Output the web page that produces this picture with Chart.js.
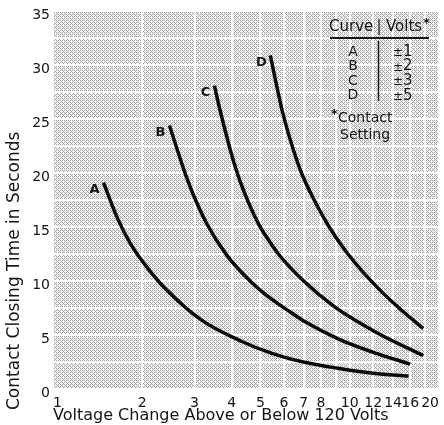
<!DOCTYPE html>
<html>
<head>
<meta charset="utf-8">
<script src="https://cdn.jsdelivr.net/npm/chart.js@4/dist/chart.umd.min.js"></script>
<style>
  html, body { margin: 0; padding: 0; background: #fff; }
  canvas { display: block; }
</style>
</head>
<body>
<canvas id="closingChart" width="444" height="425"></canvas>
<script>
// Curves: [volts change, seconds]
const curveA = [[1.48, 19.1], [1.65, 15.8], [1.83, 13.4], [2.14, 10.8], [2.37, 9.4], [3.16, 6.4],
                [4.33, 4.4], [5.47, 3.3], [7.1, 2.45], [9.22, 1.9], [12.0, 1.45], [15.8, 1.2]];
const curveB = [[2.47, 24.4], [2.62, 22.2], [2.77, 20.2], [2.96, 18.1], [3.3, 15.3], [3.85, 12.4],
                [4.7, 9.8], [5.47, 8.3], [6.33, 7.1], [7.1, 6.2], [9.22, 4.6], [12.0, 3.4], [16.0, 2.3]];
const curveC = [[3.5, 28.1], [3.65, 25.9], [3.9, 22.8], [4.1, 20.7], [4.4, 18.3], [4.95, 15.2],
                [5.45, 13.4], [5.75, 12.5], [7.0, 10.0], [8.9, 7.6], [12.0, 5.4], [15.5, 3.85], [17.7, 3.1]];
const curveD = [[5.4, 30.9], [5.92, 25.8], [6.4, 22.5], [6.88, 20.0], [7.59, 17.5], [8.53, 15.0],
                [9.86, 12.5], [12.6, 9.2], [15.1, 7.2], [17.7, 5.6]];

// Legend table
const curveNames = ['A', 'B', 'C', 'D'];
const contactVolts = ['±1', '±2', '±3', '±5'];

// Axes
const xGridValues = [1, 2, 3, 4, 5, 6, 7, 8, 9, 10, 12, 14, 16, 18, 20];
const xTickLabels = [1, 2, 3, 4, 5, 6, 7, 8, 10, 12, 14, 16, 20];
const yStep = 2.5;
const yLabelStep = 5;

const FONT = '"DejaVu Sans", sans-serif';
const INK = '#151515';

// halftone-ish screen behind the grid
function makeScreen() {
    const c = document.createElement('canvas');
    c.width = 4;
    c.height = 4;
    const g = c.getContext('2d');
    const bayer = [0, 8, 2, 10, 12, 4, 14, 6, 3, 11, 1, 9, 15, 7, 13, 5];
    bayer.forEach((b, i) => {
        g.fillStyle = b < 6 ? '#a8a8a8' : '#f4f4f4';
        g.fillRect(i % 4, Math.floor(i / 4), 1, 1);
    });
    return c;
}

const screenPlugin = {
    id: 'screen',
    beforeDraw(chart) {
        const {ctx, chartArea: a} = chart;
        ctx.save();
        ctx.fillStyle = ctx.createPattern(makeScreen(), 'repeat');
        ctx.fillRect(a.left, a.top, a.right - a.left, a.bottom - a.top);
        ctx.restore();
    }
};

// curve letters, legend table and the vertical axis title
const notesPlugin = {
    id: 'notes',
    afterDatasetsDraw(chart) {
        const ctx = chart.ctx;
        ctx.save();
        ctx.fillStyle = INK;
        ctx.strokeStyle = INK;

        ctx.font = 'bold 13px ' + FONT;
        ctx.textAlign = 'center';
        ctx.textBaseline = 'middle';
        chart.data.datasets.forEach((ds, i) => {
            const p = chart.getDatasetMeta(i).data[0];
            ctx.fillText(ds.label, p.x - 9, p.y + 7);
        });

        // table header
        ctx.font = '15px ' + FONT;
        ctx.textAlign = 'left';
        ctx.fillText('Curve', 329, 27);
        ctx.textAlign = 'center';
        ctx.fillText('|', 379, 27);
        ctx.textAlign = 'left';
        ctx.fillText('Volts', 386, 27);
        ctx.font = 'bold 13px ' + FONT;
        ctx.fillText('*', 423, 24);
        ctx.lineWidth = 2;
        ctx.beginPath();
        ctx.moveTo(330, 38);
        ctx.lineTo(429, 38);
        ctx.stroke();
        ctx.lineWidth = 1.5;
        ctx.beginPath();
        ctx.moveTo(378.5, 41);
        ctx.lineTo(378.5, 101);
        ctx.stroke();

        curveNames.forEach((name, i) => {
            const y = 52 + i * 14.6;
            ctx.font = '14px ' + FONT;
            ctx.textAlign = 'center';
            ctx.fillText(name, 353, y);
            ctx.font = '12px ' + FONT;
            ctx.fillText(contactVolts[i].charAt(0), 398, y + 1);
            ctx.font = '15px ' + FONT;
            ctx.textAlign = 'left';
            ctx.fillText(contactVolts[i].slice(1), 403, y);
        });

        ctx.font = 'bold 13px ' + FONT;
        ctx.textAlign = 'left';
        ctx.fillText('*', 331, 115);
        ctx.font = '14px ' + FONT;
        ctx.fillText('Contact', 338, 118);
        ctx.fillText('Setting', 340, 135);

        // y title runs past the bottom of the plot in the original
        ctx.translate(15, 410);
        ctx.rotate(-Math.PI / 2);
        ctx.font = '17px ' + FONT;
        ctx.textAlign = 'left';
        ctx.fillText('Contact Closing Time in Seconds', 0, 0);
        ctx.restore();
    }
};

const lineStyle = {
    borderColor: '#0a0a0a',
    borderWidth: 3.5,
    pointRadius: 0,
    cubicInterpolationMode: 'monotone',
    fill: false
};

const ctx = document.getElementById('closingChart').getContext('2d');
const closingChart = new Chart(ctx, {
    type: 'line',
    data: {
        datasets: [
            {label: 'A', data: curveA, ...lineStyle},
            {label: 'B', data: curveB, ...lineStyle},
            {label: 'C', data: curveC, ...lineStyle},
            {label: 'D', data: curveD, ...lineStyle}
        ]
    },
    options: {
        responsive: false,
        devicePixelRatio: 1,
        animation: false,
        layout: {
            padding: {top: 11, right: 5, left: 0, bottom: 0}
        },
        plugins: {
            legend: {display: false},
            tooltip: {enabled: false}
        },
        scales: {
            x: {
                type: 'logarithmic',
                min: 1,
                max: 20,
                afterBuildTicks: (scale) => {
                    scale.ticks = xGridValues.map(v => ({value: v}));
                },
                afterFit: (scale) => {
                    scale.height = 36;
                    scale.paddingLeft = 0;
                    scale.paddingRight = 0;
                },
                border: {display: false},
                grid: {color: '#ffffff', lineWidth: 2, drawTicks: false},
                ticks: {
                    autoSkip: false,
                    maxRotation: 0,
                    align: 'inner',
                    padding: 6,
                    color: INK,
                    font: {family: FONT, size: 14},
                    callback: (value) => xTickLabels.includes(value) ? String(value) : ''
                },
                title: {
                    display: true,
                    text: 'Voltage Change Above or Below 120 Volts',
                    align: 'start',
                    color: INK,
                    padding: {top: 0, bottom: 0},
                    font: {family: FONT, size: 16}
                }
            },
            y: {
                min: 0,
                max: 35,
                afterFit: (scale) => {
                    scale.width = 53;
                    scale.paddingTop = 0;
                    scale.paddingBottom = 0;
                },
                border: {display: false},
                grid: {color: '#ffffff', lineWidth: 2, drawTicks: false},
                ticks: {
                    stepSize: yStep,
                    padding: 3,
                    labelOffset: 4,
                    color: INK,
                    font: {family: FONT, size: 14},
                    callback: (value) => value % yLabelStep === 0 ? String(value) : ''
                }
            }
        }
    },
    plugins: [screenPlugin, notesPlugin]
});
</script>
</body>
</html>
